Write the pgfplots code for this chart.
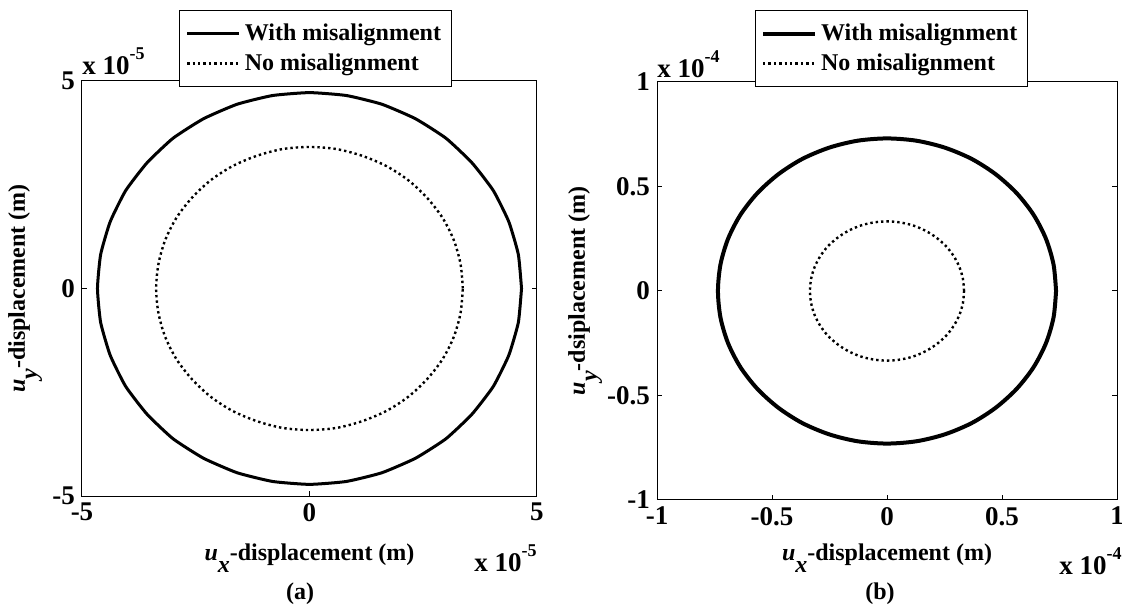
\documentclass[border=0pt]{standalone}
\usepackage{pgfplots}
\pgfplotsset{compat=1.18}
\usepackage{fontspec}
\setmainfont{Liberation Serif}
\newcommand{\F}{\bfseries\fontsize{12}{14}\selectfont}
\newcommand{\T}{\bfseries\fontsize{13.5}{15}\selectfont}
\pgfplotsset{
  mystyle/.style={
    scale only axis,
    clip=false,
    axis line style={line width=0.5pt},
    tick align=inside,
    major tick length=2.5pt,
    tick style={line width=0.5pt,black},
    font=\F,
    tick label style={font=\T},
    legend style={font=\F, draw=black, line width=0.5pt, fill=white,
      inner xsep=3pt, inner ysep=4.5pt, row sep=1.2pt,
      cells={anchor=west}},
    legend image code/.code={\draw[#1] (0pt,0pt) -- (26pt,0pt);},
    every axis plot/.append style={black},
  }
}
\newcommand{\ulab}[1]{\textit{u}\raisebox{-0.5em}{\textit{#1}}}
\newcommand{\scl}[1]{x 10\raisebox{0.55em}{\fontsize{9}{10}\selectfont #1}}
\begin{document}
\begin{tikzpicture}
\path[use as bounding box] (0,0) rectangle (561pt,302pt);
% ---------------- (a)
\begin{axis}[mystyle,
  at={(41pt,54pt)}, anchor=south west,
  width=227.5pt, height=207.5pt,
  xmin=-5, xmax=5, ymin=-5, ymax=5,
  xtick={-5,0,5}, xticklabels={-5,0,5},
  ytick={-5,0,5}, yticklabels={-5,0,5},
  xlabel={\ulab{x}-displacement (m)},
  ylabel={\ulab{y}-displacement (m)},
  xlabel style={at={(axis description cs:0.5,-0.15)}, anchor=center},
  ylabel style={at={(axis description cs:-0.125,0.5)}, anchor=center},
  legend style={at={(0.513,1)}, anchor=south, yshift=-3pt},
]
\addplot[line width=1.5pt, line join=round, smooth, tension=0.3] coordinates {
(4.66,0) (4.59,0.82) (4.38,1.61) (4.04,2.36) (3.57,3.03) (3.00,3.62) (2.33,4.09) (1.59,4.44) (0.81,4.65) (0,4.72)
(-0.81,4.65) (-1.59,4.44) (-2.33,4.09) (-3.00,3.62) (-3.57,3.03) (-4.04,2.36) (-4.38,1.61) (-4.59,0.82) (-4.66,0)
(-4.59,-0.82) (-4.38,-1.61) (-4.04,-2.36) (-3.57,-3.03) (-3.00,-3.62) (-2.33,-4.09) (-1.59,-4.44) (-0.81,-4.65) (0,-4.72)
(0.81,-4.65) (1.59,-4.44) (2.33,-4.09) (3.00,-3.62) (3.57,-3.03) (4.04,-2.36) (4.38,-1.61) (4.59,-0.82) (4.66,0)
};
\addplot[line width=1.2pt, dash pattern=on 1.2pt off 1.5pt, smooth] coordinates {
(3.37,0) (3.32,0.59) (3.17,1.17) (2.92,1.71) (2.58,2.19) (2.17,2.61) (1.69,2.95) (1.15,3.20) (0.59,3.36) (0,3.41)
(-0.59,3.36) (-1.15,3.20) (-1.69,2.95) (-2.17,2.61) (-2.58,2.19) (-2.92,1.71) (-3.17,1.17) (-3.32,0.59) (-3.37,0)
(-3.32,-0.59) (-3.17,-1.17) (-2.92,-1.71) (-2.58,-2.19) (-2.17,-2.61) (-1.69,-2.95) (-1.15,-3.20) (-0.59,-3.36) (0,-3.41)
(0.59,-3.36) (1.15,-3.20) (1.69,-2.95) (2.17,-2.61) (2.58,-2.19) (2.92,-1.71) (3.17,-1.17) (3.32,-0.59) (3.37,0)
};
\legend{With misalignment, No misalignment}
\node[anchor=south west, inner sep=0pt, font=\T] at (rel axis cs:0,1) [yshift=3pt] {\scl{-5}};
\node[anchor=east, inner sep=0pt, font=\T] at (rel axis cs:1,0) [yshift=-31pt] {\scl{-5}};
\end{axis}
% ---------------- (b)
\begin{axis}[mystyle,
  at={(328.5pt,52pt)}, anchor=south west,
  width=230pt, height=209pt,
  xmin=-1, xmax=1, ymin=-1, ymax=1,
  xtick={-1,-0.5,0,0.5,1}, xticklabels={-1,-0.5,0,0.5,1},
  ytick={-1,-0.5,0,0.5,1}, yticklabels={-1,-0.5,0,0.5,1},
  xlabel={\ulab{x}-displacement (m)},
  ylabel={\ulab{y}-dsiplacement (m)},
  xlabel style={at={(axis description cs:0.5,-0.139)}, anchor=center},
  ylabel style={at={(axis description cs:-0.156,0.5)}, anchor=center},
  legend style={at={(0.509,1)}, anchor=south, yshift=-2.5pt},
]
\addplot[line width=2pt, smooth] coordinates {
(0.735,0) (0.724,0.127) (0.691,0.250) (0.637,0.365) (0.563,0.469) (0.472,0.559) (0.368,0.632) (0.251,0.686) (0.128,0.719) (0,0.73)
(-0.128,0.719) (-0.251,0.686) (-0.368,0.632) (-0.472,0.559) (-0.563,0.469) (-0.637,0.365) (-0.691,0.250) (-0.724,0.127) (-0.735,0)
(-0.724,-0.127) (-0.691,-0.250) (-0.637,-0.365) (-0.563,-0.469) (-0.472,-0.559) (-0.368,-0.632) (-0.251,-0.686) (-0.128,-0.719) (0,-0.73)
(0.128,-0.719) (0.251,-0.686) (0.368,-0.632) (0.472,-0.559) (0.563,-0.469) (0.637,-0.365) (0.691,-0.250) (0.724,-0.127) (0.735,0)
};
\addplot[line width=1.2pt, dash pattern=on 1.2pt off 1.5pt, smooth] coordinates {
(0.335,0) (0.330,0.058) (0.315,0.114) (0.290,0.167) (0.257,0.214) (0.215,0.255) (0.168,0.288) (0.115,0.313) (0.058,0.328) (0,0.333)
(-0.058,0.328) (-0.115,0.313) (-0.168,0.288) (-0.215,0.255) (-0.257,0.214) (-0.290,0.167) (-0.315,0.114) (-0.330,0.058) (-0.335,0)
(-0.330,-0.058) (-0.315,-0.114) (-0.290,-0.167) (-0.257,-0.214) (-0.215,-0.255) (-0.168,-0.288) (-0.115,-0.313) (-0.058,-0.328) (0,-0.333)
(0.058,-0.328) (0.115,-0.313) (0.168,-0.288) (0.215,-0.255) (0.257,-0.214) (0.290,-0.167) (0.315,-0.114) (0.330,-0.058) (0.335,0)
};
\legend{With misalignment, No misalignment}
\node[anchor=south west, inner sep=0pt, font=\T] at (rel axis cs:0,1) [yshift=2pt] {\scl{-4}};
\node[anchor=east, inner sep=0pt, font=\T] at (rel axis cs:1,0) [xshift=2.5pt, yshift=-30.5pt] {\scl{-4}};
\end{axis}
\node[font=\F] at (150pt,5pt) {(a)};
\node[font=\F] at (440pt,5pt) {(b)};
\end{tikzpicture}
\end{document}
